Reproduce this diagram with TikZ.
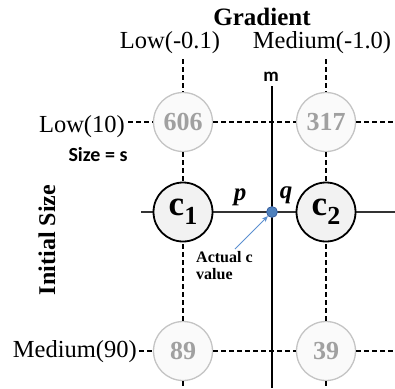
\documentclass[tikz,border=0pt]{standalone}
\usepackage{fontspec}
\setmainfont{Liberation Serif}
\newfontfamily\sanslab{Carlito}
\usetikzlibrary{arrows.meta}
\definecolor{ringgray}{HTML}{C4C4C4}
\definecolor{numgray}{HTML}{A0A0A0}
\definecolor{fillgray}{HTML}{FAFAFA}
\definecolor{cfill}{HTML}{F2F2F2}
\definecolor{dotblue}{HTML}{4F81BD}
\definecolor{dotedge}{HTML}{2F5597}
\definecolor{arrowblue}{HTML}{5B8FD0}
\definecolor{linegray}{HTML}{333333}
\begin{document}
\begin{tikzpicture}[x=1pt,y=-1pt,
  graycirc/.style={circle, draw=ringgray, line width=1.3pt, fill=fillgray, minimum size=59pt, inner sep=0pt, text=numgray, font=\fontsize{26}{26}\selectfont\bfseries},
  ccirc/.style={circle, draw=black, line width=1.8pt, fill=cfill, minimum size=59pt, inner sep=0pt},
  dashline/.style={line width=1.6pt, dash pattern=on 5pt off 3pt},
  solidline/.style={line width=2pt, draw=linegray},
  lab/.style={font=\fontsize{24.5}{24.5}\selectfont, inner sep=0pt}
]
\useasboundingbox (0,0) rectangle (395,388);
\fill[white] (0,0) rectangle (395,388);

% labels
\node[lab, font=\fontsize{25}{25}\selectfont\bfseries, anchor=base] (grad) at (262,25) {Gradient};
\node[lab, anchor=base] (glow) at (170,48) {Low(-0.1)};
\node[lab, anchor=base] (gmed) at (322,48) {Medium(-1.0)};
\node[lab, anchor=base east] (slow) at (125,132) {Low(10)};
\node[lab, anchor=base east] (smed) at (137,357) {Medium(90)};
\node[inner sep=0pt, font=\sanslab\fontsize{20}{20}\selectfont\bfseries] (sizes) at (98,155) {Size = s};
\node[inner sep=0pt, rotate=90, font=\fontsize{24}{24}\selectfont\bfseries] (initsize) at (47,240) {Initial Size};
\node[inner sep=0pt, font=\sanslab\fontsize{19}{19}\selectfont\bfseries] (mlab) at (271,77) {m};

% coordinates for free ends
\coordinate (v1top) at (183,59);
\coordinate (v2top) at (326,59);
\coordinate (v1bot) at (183,388);
\coordinate (v2bot) at (326,388);
\coordinate (r1left) at (128,122);
\coordinate (r1right) at (395,122);
\coordinate (r3left) at (139,351);
\coordinate (r3right) at (395,351);
\coordinate (r2left) at (141,212);
\coordinate (r2right) at (395,212);
\coordinate (mtop) at (272,86);
\coordinate (mbot) at (272,388);

% circles
\node[graycirc] (n606) at (183,122) {606};
\node[graycirc] (n317) at (326,122) {317};
\node[graycirc] (n89) at (183,351) {89};
\node[graycirc] (n39) at (326,351) {39};

% lines
\draw[dashline] (v1top) -- (n606);
\draw[dashline] (n606) -- (183,212);
\draw[dashline] (183,212) -- (n89);
\draw[dashline] (n89) -- (v1bot);
\draw[dashline] (v2top) -- (n317);
\draw[dashline] (n317) -- (326,212);
\draw[dashline] (326,212) -- (n39);
\draw[dashline] (n39) -- (v2bot);
\draw[dashline] (r1left) -- (n606);
\draw[dashline] (n606) -- (n317);
\draw[dashline] (n317) -- (r1right);
\draw[dashline] (r3left) -- (n89);
\draw[dashline] (n89) -- (n39);
\draw[dashline] (n39) -- (r3right);
\draw[solidline] (r2left) -- (r2right);
\draw[line width=2pt, black] (mtop) -- (mbot);

\node[ccirc] (c1) at (183,212) {\bfseries\fontsize{35}{35}\selectfont c\raisebox{-9pt}{\fontsize{26}{26}\selectfont 1}};
\node[ccirc] (c2) at (326,212) {\bfseries\fontsize{35}{35}\selectfont c\raisebox{-9pt}{\fontsize{26}{26}\selectfont 2}};

\node[inner sep=0pt, font=\fontsize{25}{25}\selectfont\bfseries\itshape] (p) at (240,197) {p};
\node[inner sep=0pt, font=\fontsize{25}{25}\selectfont\bfseries\itshape] (q) at (286,195) {q};

\node[circle, fill=dotblue, draw=dotedge, line width=0.6pt, minimum size=11pt, inner sep=0pt] (dot) at (272,212) {};

\node[inner sep=0pt, align=left, anchor=north west, font=\fontsize{16}{17.5}\selectfont\bfseries] (actual) at (196,251) {Actual c\\value};
\coordinate (atail) at (235,249);
\draw[-{Stealth[length=6pt,width=5pt]}, arrowblue, line width=0.9pt] (atail) -- (dot);
\end{tikzpicture}
\end{document}
